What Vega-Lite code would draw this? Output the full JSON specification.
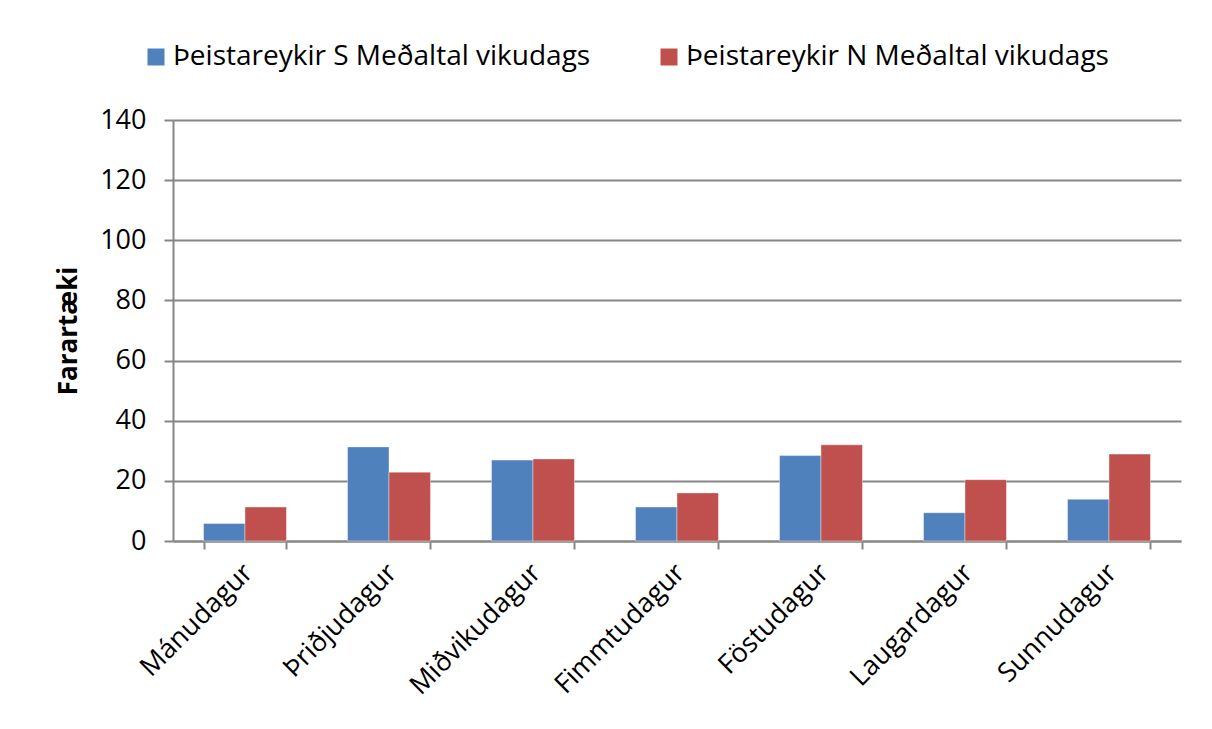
{
  "$schema": "https://vega.github.io/schema/vega-lite/v6.json",
  "width": 1008,
  "height": 421,
  "autosize": {"type": "none"},
  "padding": {"left": 173, "top": 120, "right": 31, "bottom": 188},
  "background": "white",
  "config": {"view": {"stroke": null}, "font": "Open Sans"},
  "data": {
    "values": [
      {"dag": "Mánudagur", "stod": "Þeistareykir S Meðaltal vikudags", "value": 5.8},
      {"dag": "Mánudagur", "stod": "Þeistareykir N Meðaltal vikudags", "value": 11.3},
      {"dag": "Þriðjudagur", "stod": "Þeistareykir S Meðaltal vikudags", "value": 31.3},
      {"dag": "Þriðjudagur", "stod": "Þeistareykir N Meðaltal vikudags", "value": 22.9},
      {"dag": "Miðvikudagur", "stod": "Þeistareykir S Meðaltal vikudags", "value": 26.9},
      {"dag": "Miðvikudagur", "stod": "Þeistareykir N Meðaltal vikudags", "value": 27.3},
      {"dag": "Fimmtudagur", "stod": "Þeistareykir S Meðaltal vikudags", "value": 11.3},
      {"dag": "Fimmtudagur", "stod": "Þeistareykir N Meðaltal vikudags", "value": 16.0},
      {"dag": "Föstudagur", "stod": "Þeistareykir S Meðaltal vikudags", "value": 28.4},
      {"dag": "Föstudagur", "stod": "Þeistareykir N Meðaltal vikudags", "value": 32.0},
      {"dag": "Laugardagur", "stod": "Þeistareykir S Meðaltal vikudags", "value": 9.4},
      {"dag": "Laugardagur", "stod": "Þeistareykir N Meðaltal vikudags", "value": 20.4},
      {"dag": "Sunnudagur", "stod": "Þeistareykir S Meðaltal vikudags", "value": 13.9},
      {"dag": "Sunnudagur", "stod": "Þeistareykir N Meðaltal vikudags", "value": 28.9}
    ]
  },
  "mark": {"type": "bar", "stroke": "#ffffff", "strokeOpacity": 0.5, "strokeWidth": 0.8},
  "encoding": {
    "x": {
      "field": "dag",
      "type": "nominal",
      "sort": null,
      "scale": {"paddingInner": 0.424, "paddingOuter": 0.212},
      "axis": {
        "title": null,
        "labelAngle": -45,
        "labelFontSize": 27,
        "labelColor": "black",
        "labelPadding": 10,
        "labelOffset": -6,
        "domainColor": "#868686",
        "domainWidth": 2,
        "tickColor": "#868686",
        "tickWidth": 2,
        "tickSize": 8,
        "tickBand": "extent"
      }
    },
    "xOffset": {"field": "stod", "type": "nominal", "sort": null},
    "y": {
      "field": "value",
      "type": "quantitative",
      "scale": {"domain": [0, 140]},
      "axis": {
        "values": [0, 20, 40, 60, 80, 100, 120, 140],
        "title": "Farartæki",
        "titleFontSize": 26,
        "titleFontWeight": "bold",
        "titleColor": "black",
        "titlePadding": 18,
        "labelFontSize": 27,
        "labelColor": "black",
        "labelPadding": 18,
        "domainColor": "#868686",
        "domainWidth": 2,
        "tickColor": "#868686",
        "tickWidth": 2,
        "tickSize": 9,
        "gridColor": "#868686",
        "gridWidth": 2
      }
    },
    "color": {
      "field": "stod",
      "type": "nominal",
      "sort": null,
      "scale": {"range": ["#4F81BD", "#C0504D"]},
      "legend": {
        "title": null,
        "orient": "none",
        "direction": "horizontal",
        "legendX": -31,
        "legendY": -77,
        "symbolType": "square",
        "symbolSize": 289,
        "symbolStrokeWidth": 0,
        "labelFontSize": 28,
        "labelColor": "black",
        "labelOffset": 3,
        "columnPadding": 64,
        "labelLimit": 700
      }
    }
  }
}
